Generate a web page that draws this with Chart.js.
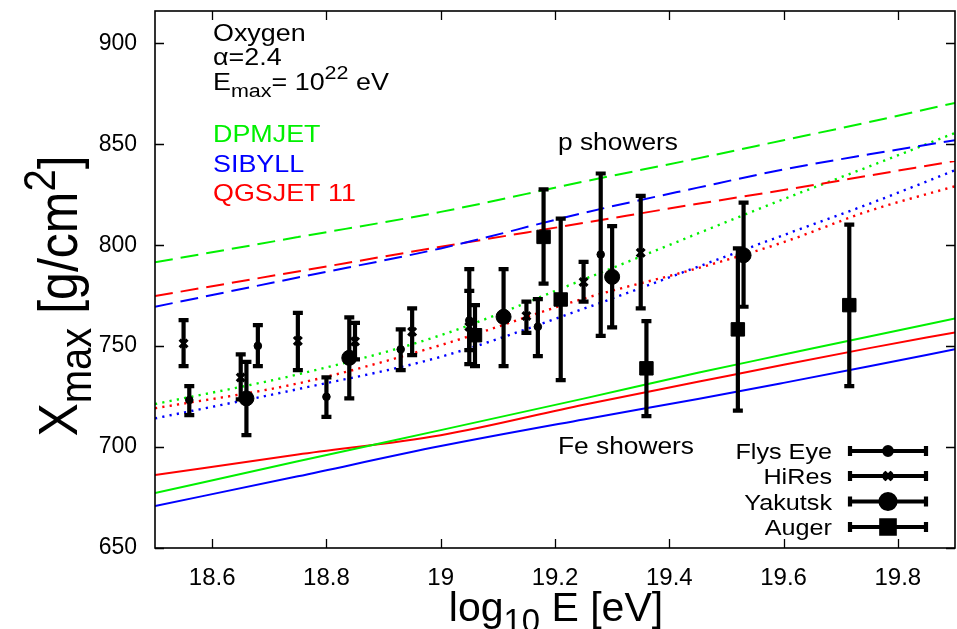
<!DOCTYPE html>
<html>
<head>
<meta charset="utf-8">
<script src="https://cdn.jsdelivr.net/npm/chart.js@4/dist/chart.umd.min.js"></script>
<style>
  html, body { margin: 0; padding: 0; background: #fff; overflow: hidden; }
  canvas { display: block; }
</style>
</head>
<body>
<canvas id="c" width="957" height="629"></canvas>
<script>
// ---- axes ----
const X_TICKS = [18.6, 18.8, 19.0, 19.2, 19.4, 19.6, 19.8];
const Y_TICKS = [650, 700, 750, 800, 850, 900];

// ---- model predictions of <Xmax> (g/cm^2) vs log10 E ----
const MODEL_ENERGY = [18.5, 18.75, 19.0, 19.25, 19.45, 19.6, 19.75, 19.9];
// proton showers (dashed)
const P_DPMJET = [791.5, 804.0, 816.5, 831.5, 843.0, 852.0, 861.0, 870.5];
const P_SIBYLL = [769.5, 784.0, 798.4, 816.0, 828.5, 837.5, 845.0, 852.0];
const P_QGSJET = [774.8, 787.0, 799.2, 811.0, 820.5, 827.3, 834.5, 841.7];
// oxygen source composition, alpha = 2.4, Emax = 1e22 eV (dotted)
const O_DPMJET = [721.3, 736.0, 755.4, 783.0, 805.8, 822.8, 839.0, 855.6];
const O_SIBYLL = [714.2, 728.7, 744.7, 768.5, 789.3, 805.0, 820.5, 837.1];
const O_QGSJET = [719.2, 731.5, 750.5, 773.5, 788.6, 801.5, 817.0, 829.2];
// iron showers (solid)
const FE_DPMJET = [677.2, 693.0, 708.4, 724.0, 736.8, 745.8, 754.8, 763.7];
const FE_SIBYLL = [670.8, 685.5, 700.5, 713.7, 723.8, 731.8, 740.0, 748.4];
const FE_QGSJET = [686.1, 696.3, 705.9, 721.0, 732.3, 740.8, 749.0, 756.8];

// ---- measurements: energy, Xmax, lower and upper ends of the error bar ----
const FLYS_EYE_E  = [18.56, 18.68, 18.80, 18.93, 19.05, 19.17, 19.28];
const FLYS_EYE_X  = [723.3, 750.1, 724.9, 748.4, 762.7, 759.6, 795.4];
const FLYS_EYE_LO = [715.8, 740.1, 715.0, 738.1, 748.0, 745.0, 755.1];
const FLYS_EYE_HI = [730.2, 760.4, 734.5, 758.3, 777.4, 773.3, 835.5];

const HIRES_E  = [18.55, 18.65, 18.75, 18.85, 18.95, 19.05, 19.15, 19.25, 19.35];
const HIRES_X  = [751.3, 734.5, 752.6, 752.3, 757.1, 759.6, 764.9, 781.8, 796.2];
const HIRES_LO = [740.1, 723.6, 738.1, 743.4, 745.5, 741.1, 756.6, 772.0, 768.7];
const HIRES_HI = [762.9, 745.9, 766.5, 761.5, 768.7, 788.1, 772.0, 791.7, 824.4];

const YAKUTSK_E  = [18.66, 18.84, 19.11, 19.30, 19.53];
const YAKUTSK_X  = [724.1, 744.2, 764.5, 784.3, 795.0];
const YAKUTSK_LO = [705.9, 724.1, 740.1, 759.3, 769.5];
const YAKUTSK_HI = [742.2, 764.2, 788.1, 809.4, 821.1];

const AUGER_E  = [19.06, 19.18, 19.21, 19.36, 19.52, 19.715];
const AUGER_X  = [755.4, 804.1, 773.1, 739.0, 758.3, 770.3];
const AUGER_LO = [740.1, 781.0, 733.2, 715.3, 718.0, 730.2];
const AUGER_HI = [770.3, 827.6, 813.2, 762.4, 798.4, 810.2];

const EXPERIMENT_NAMES = ['Flys Eye', 'HiRes', 'Yakutsk', 'Auger'];
const MODEL_NAMES = ['DPMJET', 'SIBYLL', 'QGSJET 11'];

const GREEN = '#00f000', BLUE = '#0000ff', RED = '#ff0000';
const FONT = "'Liberation Sans', Arial, Helvetica, sans-serif";

const curve = vals => MODEL_ENERGY.map((e, i) => ({ x: e, y: vals[i] }));
const pts = (es, xs) => es.map((e, i) => ({ x: e, y: xs[i] }));

function modelLine(vals, color, dash, width) {
  return {
    type: 'line', data: curve(vals), borderColor: color, borderWidth: width,
    borderDash: dash, pointRadius: 0, fill: false, cubicInterpolationMode: 'monotone', order: 5
  };
}
const DASH = [18, 8], DOT = [2.2, 5.2];

const experiments = [
  { e: FLYS_EYE_E, x: FLYS_EYE_X, lo: FLYS_EYE_LO, hi: FLYS_EYE_HI, style: 'circle', r: 3.8, bw: 1 },
  { e: HIRES_E, x: HIRES_X, lo: HIRES_LO, hi: HIRES_HI, style: 'crossRot', r: 5.5, bw: 3.2 },
  { e: YAKUTSK_E, x: YAKUTSK_X, lo: YAKUTSK_LO, hi: YAKUTSK_HI, style: 'circle', r: 7.5, bw: 1 },
  { e: AUGER_E, x: AUGER_X, lo: AUGER_LO, hi: AUGER_HI, style: 'rect', r: 9.5, bw: 1 }
];

const datasets = [
  modelLine(P_DPMJET, GREEN, DASH, 2), modelLine(P_SIBYLL, BLUE, DASH, 2), modelLine(P_QGSJET, RED, DASH, 2),
  modelLine(O_DPMJET, GREEN, DOT, 2.4), modelLine(O_SIBYLL, BLUE, DOT, 2.4), modelLine(O_QGSJET, RED, DOT, 2.4),
  modelLine(FE_DPMJET, GREEN, [], 2), modelLine(FE_SIBYLL, BLUE, [], 2), modelLine(FE_QGSJET, RED, [], 2)
];
experiments.forEach((ex, k) => datasets.push({
  type: 'scatter', label: EXPERIMENT_NAMES[k], data: pts(ex.e, ex.x),
  pointStyle: ex.style, pointRadius: ex.r, pointBorderWidth: ex.bw,
  backgroundColor: '#000', borderColor: '#000', order: 1
}));

// draws text made of pieces; each piece: [text, baseline shift in em, size factor]
function richText(ctx, parts, x, y, size, color, align, sx, sy) {
  sx = sx || 1; sy = sy || 1;
  let w = 0;
  parts.forEach(p => { ctx.font = (size * p[2]) + 'px ' + FONT; w += ctx.measureText(p[0]).width; });
  ctx.save();
  ctx.translate(x, y);
  ctx.scale(sx, sy);
  let cx = align === 'right' ? -w : align === 'center' ? -w / 2 : 0;
  ctx.fillStyle = color;
  ctx.textBaseline = 'alphabetic';
  ctx.textAlign = 'left';
  parts.forEach(p => {
    ctx.font = (size * p[2]) + 'px ' + FONT;
    ctx.fillText(p[0], cx, p[1] * size);
    cx += ctx.measureText(p[0]).width;
  });
  ctx.restore();
}

function errorBar(ctx, px, pyLo, pyHi, cap) {
  ctx.beginPath();
  ctx.moveTo(px, pyLo); ctx.lineTo(px, pyHi);
  ctx.moveTo(px - cap, pyLo); ctx.lineTo(px + cap, pyLo);
  ctx.moveTo(px - cap, pyHi); ctx.lineTo(px + cap, pyHi);
  ctx.stroke();
}

// keep the plot frame where the layout padding puts it
function noLabelPadding(s) {
  s.paddingTop = 0; s.paddingBottom = 0; s.paddingLeft = 0; s.paddingRight = 0;
}

const BAR_WIDTH = 4.2, CAP = 5;

const decor = {
  id: 'decor',
  beforeDraw(chart) {
    const ctx = chart.ctx;
    ctx.save(); ctx.fillStyle = '#fff'; ctx.fillRect(0, 0, chart.width, chart.height); ctx.restore();
  },
  afterDatasetsDraw(chart) {
    const { ctx, scales: { x, y } } = chart;
    ctx.save();
    ctx.strokeStyle = '#000';
    ctx.lineWidth = BAR_WIDTH;
    ctx.lineCap = 'butt';
    experiments.forEach(ex => {
      ex.e.forEach((e, i) => {
        errorBar(ctx, x.getPixelForValue(e), y.getPixelForValue(ex.lo[i]), y.getPixelForValue(ex.hi[i]), CAP);
      });
    });
    ctx.restore();
  },
  afterDraw(chart) {
    const { ctx, chartArea: a, scales: { x, y } } = chart;
    ctx.save();
    // frame and inward ticks on all four sides
    ctx.strokeStyle = '#000';
    ctx.lineWidth = 1.6;
    ctx.strokeRect(a.left, a.top, a.right - a.left, a.bottom - a.top);
    const tl = 9;
    ctx.beginPath();
    X_TICKS.forEach(v => {
      const px = Math.round(x.getPixelForValue(v)) + 0.5;
      ctx.moveTo(px, a.bottom); ctx.lineTo(px, a.bottom - tl);
      ctx.moveTo(px, a.top); ctx.lineTo(px, a.top + tl);
    });
    Y_TICKS.forEach(v => {
      const py = Math.round(y.getPixelForValue(v)) + 0.5;
      ctx.moveTo(a.left, py); ctx.lineTo(a.left + tl, py);
      ctx.moveTo(a.right, py); ctx.lineTo(a.right - tl, py);
    });
    ctx.lineWidth = 1.3;
    ctx.stroke();

    // annotations inside the frame
    const sx = 1.12, fs = 24;
    richText(ctx, [['Oxygen', 0, 1]], 213, 41, fs, '#000', 'left', sx);
    richText(ctx, [['\u03B1=2.4', 0, 1]], 213, 65, fs, '#000', 'left', sx);
    richText(ctx, [['E', 0, 1], ['max', 0.28, 0.8], ['= 10', 0, 1], ['22', -0.45, 0.8], [' eV', 0, 1]], 213, 90, fs, '#000', 'left', sx);
    richText(ctx, [[MODEL_NAMES[0], 0, 1]], 213, 142, fs, GREEN, 'left', sx);
    richText(ctx, [[MODEL_NAMES[1], 0, 1]], 213, 172, fs, BLUE, 'left', sx);
    richText(ctx, [[MODEL_NAMES[2], 0, 1]], 213, 201, fs, RED, 'left', sx);
    richText(ctx, [['p showers', 0, 1]], 558, 150, 23.5, '#000', 'left', sx);
    richText(ctx, [['Fe showers', 0, 1]], 558, 454, 23.5, '#000', 'left', sx);

    // key of the experiments
    const rows = [451, 476, 501.5, 527];
    ctx.strokeStyle = '#000';
    ctx.lineWidth = BAR_WIDTH;
    experiments.forEach((ex, k) => {
      const ry = rows[k];
      richText(ctx, [[EXPERIMENT_NAMES[k], 0, 1]], 832, ry + 8, 22.5, '#000', 'right', sx);
      ctx.beginPath();
      ctx.moveTo(850, ry); ctx.lineTo(926, ry);
      ctx.moveTo(850, ry - CAP); ctx.lineTo(850, ry + CAP);
      ctx.moveTo(926, ry - CAP); ctx.lineTo(926, ry + CAP);
      ctx.stroke();
      Chart.helpers.drawPoint(ctx, { pointStyle: ex.style, radius: ex.r, borderWidth: ex.bw }, 888, ry);
      ctx.fillStyle = '#000';
      ctx.fill();
      if (ex.style === 'crossRot') { ctx.lineWidth = 3.2; ctx.stroke(); ctx.lineWidth = BAR_WIDTH; }
    });

    // axis titles
    ctx.save();
    ctx.translate(77, 296);
    ctx.rotate(-Math.PI / 2);
    richText(ctx, [['X', 0, 1], ['max', 0.25, 0.8], [' [g/cm', 0, 1], ['2', -0.4, 0.8], [']', 0, 1]], 0, 0, 50, '#000', 'center', 1, 1.12);
    ctx.restore();
    richText(ctx, [['log', 0, 1], ['10', 0.28, 0.8], [' E [eV]', 0, 1]], 556, 621, 41, '#000', 'center', 1);
    ctx.restore();
  }
};

new Chart(document.getElementById('c'), {
  type: 'scatter',
  data: { datasets },
  plugins: [decor],
  options: {
    responsive: false,
    animation: false,
    devicePixelRatio: 1,
    layout: { autoPadding: false, padding: { left: 0, right: 2, top: 11, bottom: 0 } },
    plugins: { legend: { display: false }, tooltip: { enabled: false } },
    scales: {
      x: {
        type: 'linear', min: 18.5, max: 19.9,
        afterBuildTicks: s => { s.ticks = X_TICKS.map(v => ({ value: v })); },
        afterFit: s => { s.height = 81; noLabelPadding(s); },
        grid: { display: false, drawTicks: false },
        border: { display: false },
        ticks: {
          padding: 16, color: '#000', font: { family: FONT, size: 24 },
          callback: v => String(Number(v.toFixed(1)))
        }
      },
      y: {
        type: 'linear', min: 650, max: 916,
        afterBuildTicks: s => { s.ticks = Y_TICKS.map(v => ({ value: v })); },
        afterFit: s => { s.width = 155; noLabelPadding(s); },
        grid: { display: false, drawTicks: false },
        border: { display: false },
        ticks: {
          padding: 18, color: '#000', font: { family: FONT, size: 23 },
          callback: v => String(v)
        }
      }
    }
  }
});
</script>
</body>
</html>
